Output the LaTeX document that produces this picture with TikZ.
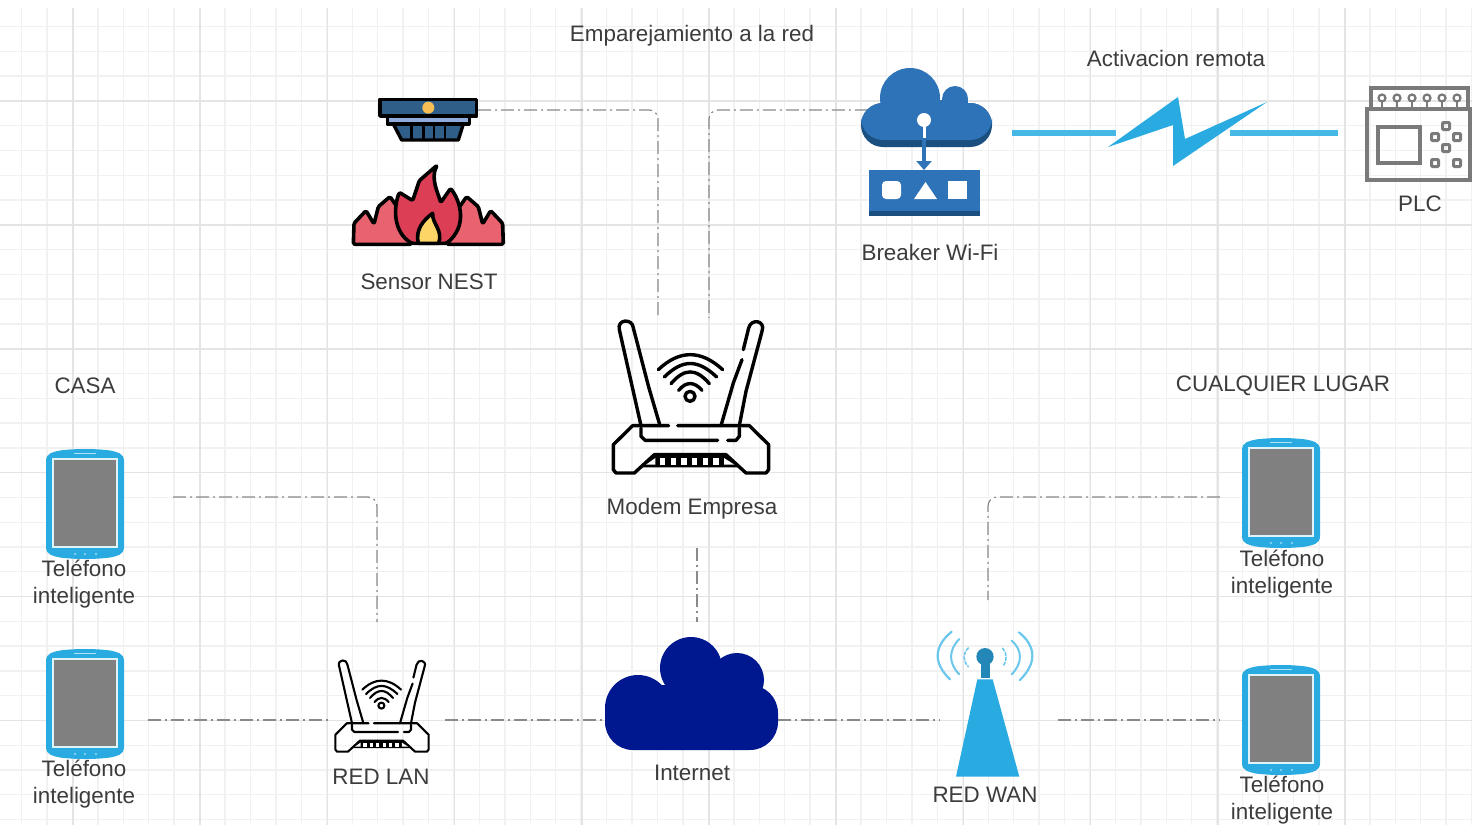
\documentclass[tikz,border=0pt]{standalone}
\usepackage{fontspec}
\setmainfont{Liberation Sans}
\usetikzlibrary{calc,arrows.meta}
\definecolor{gridminor}{HTML}{F1F1F1}
\definecolor{gridmajor}{HTML}{E4E4E4}
\definecolor{textc}{HTML}{3C3C3C}
\definecolor{skyb}{HTML}{29ABE2}
\definecolor{skybar}{HTML}{45B8E6}
\definecolor{arcb}{HTML}{6CC7EC}
\definecolor{towerdark}{HTML}{2388B8}
\definecolor{cloudb}{HTML}{2E72B8}
\definecolor{cloudd}{HTML}{1B4F80}
\definecolor{netb}{HTML}{00188F}
\definecolor{smokeb}{HTML}{2F5F88}
\definecolor{smokel}{HTML}{8FAADC}
\definecolor{amber}{HTML}{F7BE55}
\definecolor{flamea}{HTML}{E8626F}
\definecolor{flameb}{HTML}{DC3F55}
\definecolor{flamec}{HTML}{FDD566}
\definecolor{plcg}{HTML}{7A7A7A}
\definecolor{screen}{HTML}{808080}
\definecolor{connc}{HTML}{8A8A8A}
\tikzset{
  lab/.style={font=\fontsize{22.4}{27}\selectfont,text=textc,inner sep=0pt,align=center},
  port/.style={inner sep=0pt,minimum width=#1},
  conn/.style={draw=connc,line width=1.2pt,dash pattern=on 13pt off 4pt on 2pt off 4pt,rounded corners=9pt},
  bar/.style={draw=skybar,line width=6pt},
  ink/.style={draw=black,line join=round,line cap=round},
}
\newcommand{\routericon}[4]{%
\begin{scope}[shift={(#1,#2)},scale=#3,x=.3333pt,y=-.3333pt,shift={(-305,-292)}]
  \begin{scope}[ink,line width=#4]
  \draw (155,378) -- (90,90) .. controls (82,58) and (130,55) .. (132,85) -- (178,262) -- (212,378);
  \draw (395,378) -- (432,250) -- (458,180);
  \draw (462,150) -- (478,85) .. controls (485,55) and (530,62) .. (518,95) -- (470,275) -- (450,378);
  \draw (238,378) -- (130,378) -- (72,435) -- (72,510) -- (80,520) -- (135,520) -- (195,465) -- (410,465) -- (470,520) -- (530,520) -- (538,510) -- (538,435) -- (480,378) -- (265,378);
  \draw (155,385) -- (155,410) -- (167,422) -- (385,422);
  \draw (415,422) -- (440,422) -- (450,410) -- (450,385);
  \draw (207,210) .. controls (270,150) and (335,150) .. (400,210);
  \draw (225,232) .. controls (280,178) and (325,178) .. (382,232);
  \draw (245,252) .. controls (285,205) and (320,205) .. (360,252);
  \draw (268,272) .. controls (290,245) and (315,245) .. (338,272);
  \draw (302,290) circle (15);
  \end{scope}
  \fill[black] (150,503) -- (195,465) -- (410,465) -- (455,503) -- cycle;
  \foreach \s in {212,244,276,308,340,372}{\fill[white] (\s,475) rectangle +(16,20);}
  \fill[white] (170,495) -- (198,475) -- (198,495) -- cycle;
  \fill[white] (435,495) -- (404,475) -- (404,495) -- cycle;
\end{scope}}
\newcommand{\phoneicon}[2]{%
\begin{scope}[shift={(#1,#2)}]
  \fill[skyb] (-39,-43) .. controls (-39,-51) and (-32,-52) .. (-25,-53.5) .. controls (-10,-55.5) and (10,-55.5) .. (25,-53.5) .. controls (32,-52) and (39,-51) .. (39,-43) -- (39,43) .. controls (39,51) and (32,52) .. (25,53.5) .. controls (10,55.5) and (-10,55.5) .. (-25,53.5) .. controls (-32,52) and (-39,51) .. (-39,43) -- cycle;
  \fill[white!85!skyb] (-33,-46) rectangle (33,44);
  \fill[screen] (-31,-44) rectangle (31,42);
  \draw[white!65!skyb,line width=1.2pt] (-11,-50.5) -- (11,-50.5);
  \foreach \d in {-10,0,11}{\fill[white!55!skyb] (\d,50) circle (1.2);}
\end{scope}}
\begin{document}
\begin{tikzpicture}[x=1pt,y=-1pt]
\useasboundingbox (0,0) rectangle (1472,825);
\fill[white] (0,0) rectangle (1472,825);
% grid
\foreach \i in {0,...,57}{\draw[gridminor,line width=1.4pt] ({21.5+25.44*\i},8) -- ({21.5+25.44*\i},825);}
\foreach \j in {0,...,32}{\draw[gridminor,line width=1.4pt] (0,{26.6+24.78*\j}) -- (1472,{26.6+24.78*\j});}
\foreach \i in {0,...,10}{\draw[gridmajor,line width=1.5pt] ({73+127.2*\i},8) -- ({73+127.2*\i},825);}
\foreach \k in {0,...,5}{\draw[gridmajor,line width=1.5pt] (0,{101+123.9*\k}) -- (1472,{101+123.9*\k});}

% anchoring boxes of the icons
\node[port=100pt,minimum height=42pt] (smoke) at (428,110) {};
\node[port=116pt,minimum height=80pt] (wificloud) at (926,110) {};
\node[port=158pt,minimum height=156pt] (modem) at (691,396) {};
\node[port=94pt,minimum height=100pt] (redlan) at (381,720) {};
\node[port=174pt,minimum height=114pt] (internet) at (691,693) {};
\node[port=118pt,minimum height=150pt] (tower) at (999,704) {};
\node[port=78pt,minimum height=110pt] (phoneA) at (85,504) {};
\node[port=78pt,minimum height=110pt] (phoneB) at (85,704) {};
\node[port=78pt,minimum height=110pt] (phoneC) at (1281,493) {};
\node[port=78pt,minimum height=110pt] (phoneD) at (1281,720) {};
\node[port=104pt,minimum height=10pt] (plc) at (1420,133) {};
\coordinate (boltL) at (1116,133);
\coordinate (boltR) at (1230,133);
\coordinate (barL) at (1012,133);
\coordinate (barR) at (1338,133);

% labels
\node[lab] (t1) at (692,36) {Emparejamiento a la red};
\node[lab] (t2) at (1176,58) {Activacion remota};
\node[lab] (t3) at (1420,204) {PLC};
\node[lab] (t4) at (930,252.5) {Breaker Wi-Fi};
\node[lab] (t5) at (429,281.5) {Sensor NEST};
\node[lab] (t6) at (85,385.5) {CASA};
\node[lab] (t7) at (1283,386) {CUALQUIER LUGAR};
\node[lab] (t8) at (692,509) {Modem Empresa};
\node[lab] (t9) at (84,584.5) {Teléfono\\inteligente};
\node[lab] (t10) at (84,784) {Teléfono\\inteligente};
\node[lab] (t11) at (1282,574.5) {Teléfono\\inteligente};
\node[lab] (t12) at (1282,800.5) {Teléfono\\inteligente};
\node[lab] (t13) at (381,776.5) {RED LAN};
\node[lab] (t14) at (692,772.5) {Internet};
\node[lab] (t15) at (985,794.5) {RED WAN};

% connectors
\coordinate (m1) at ($(modem.north)+(-33,0)$);
\coordinate (m2) at ($(modem.north)+(18,0)$);
\coordinate (lanup) at (377,622);
\coordinate (wanup) at (988,600);
\coordinate (netup) at (697,622);
\coordinate (modemdown) at (697,548);
\coordinate (pA) at (173,497);
\coordinate (pB) at (148,720);
\coordinate (pC) at (1220,497);
\coordinate (pD) at (1220,720);
\coordinate (wanE) at (1058,720);
\coordinate (wanW) at (940,720);
\coordinate (lanW) at (330,720);
\coordinate (lanE) at (445,720);
\coordinate (netW) at (605,720);
\coordinate (netE) at (778,720);
\draw[conn] (smoke.east) -| (m1);
\draw[conn] (wificloud.west) -| (m2);
\draw[conn] (pA) -| (lanup);
\draw[conn] (pC) -| (wanup);
\draw[conn] (modemdown) -- (netup);
\draw[conn] (pB) -- (lanW);
\draw[conn] (lanE) -- (netW);
\draw[conn] (netE) -- (wanW);
\draw[conn] (wanE) -- (pD);
\draw[bar] (barL) -- (boltL);
\draw[bar] (boltR) -- (barR);
\fill[skyb] (1108,147) -- (1178,97) -- (1185,139) -- (1267,102) -- (1173,166) -- (1173,125) -- cycle;

% smoke sensor
\begin{scope}[shift={(340,60)},x=.3333pt,y=-.3333pt]
  \draw[ink,line width=3.4pt,fill=smokeb] (160,192) -- (185,240) -- (355,240) -- (370,192) -- cycle;
  \foreach \s in {215,250,282,315}{\draw[black,line width=2.4pt] (\s,195) -- (\s,238);}
  \draw[ink,line width=3.4pt,fill=smokel] (142,170) rectangle (388,192);
  \draw[ink,line width=3.6pt,fill=smokeb] (120,118) rectangle (410,168);
  \fill[amber] (265,143) circle (18);
  % flames
  \draw[ink,line width=3.6pt,fill=flamea,rounded corners=1.5pt] (40,553) -- (42,490) -- (78,452) -- (102,492) -- (115,440) -- (150,410) -- (178,450) -- (215,553) -- cycle;
  \draw[ink,line width=3.6pt,fill=flamea,rounded corners=1.5pt] (490,553) -- (488,490) -- (452,452) -- (428,492) -- (415,440) -- (380,410) -- (352,450) -- (320,553) -- cycle;
  \draw[ink,line width=3.6pt,fill=flameb,rounded corners=1.5pt] (215,550) .. controls (160,515) and (160,445) .. (178,397) -- (218,422) -- (238,362) -- (292,315) .. controls (270,355) and (295,400) .. (302,428) -- (332,385) .. controls (365,430) and (380,500) .. (320,550) -- cycle;
  \draw[ink,line width=3.6pt,fill=flamec] (235,550) .. controls (225,510) and (250,480) .. (278,460) .. controls (275,490) and (310,510) .. (296,550) -- cycle;
\end{scope}

% Wi-Fi cloud and breaker
\fill[cloudd,rounded corners=22pt] (861,103) rectangle (992,147);
\fill[cloudb,rounded corners=22pt] (861,103) rectangle (992,140);
\fill[cloudb] (910,98) circle (30);
\fill[cloudb] (955,99) circle (13);
\fill[cloudb] (938,100) rectangle (968,110);
\draw[white,line width=3pt] (924,120) -- (924,138);
\fill[white] (924,120) circle (7);
\draw[cloudb,line width=3.4pt,-{Triangle[length=9pt,width=15pt]}] (924,138) -- (924,170);
\fill[cloudb] (869,170) rectangle (980,211);
\fill[cloudd] (869,211) rectangle (980,216);
\fill[white,rounded corners=4pt] (882,181) rectangle (901,199);
\fill[white] (914,199) -- (925.5,182) -- (937,199) -- cycle;
\fill[white] (948,181) rectangle (967,199);

% PLC
\begin{scope}[draw=plcg,line width=3.2pt]
  \draw (1371,109) -- (1371,88) -- (1468,88) -- (1468,109);
  \draw (1367,109) rectangle (1470,180);
  \draw (1378,127) rectangle (1420,163);
  \foreach \x in {1382,1397,1412,1427,1442,1457}{
    \draw[line width=2.2pt] (\x,98) circle (3.5);
    \draw[line width=2.2pt] (\x,101.5) -- (\x,108);}
  \foreach \x/\y in {1446/126,1435/137,1457/137,1446/148,1435/163,1457/163}{
    \draw[line width=3pt,rounded corners=1pt] (\x-3.5,\y-3.5) rectangle (\x+3.5,\y+3.5);}
\end{scope}

% routers
\routericon{691}{397}{1}{3.4pt}
\routericon{382}{706}{.6}{2.1pt}

% Internet
\fill[netb,rounded corners=28pt] (605,685) rectangle (778,750);
\fill[netb] (691,668) circle (31);
\fill[netb] (737,680) circle (27);
\fill[netb] (638,708) circle (33);
\fill[netb] (650,695) rectangle (750,720);

% tower
\begin{scope}[shift={(900,620)},x=.3333pt,y=-.3333pt]
  \fill[skyb] (232,178) -- (278,178) -- (358,470) -- (168,470) -- cycle;
  \fill[towerdark] (243,125) rectangle (270,175);
  \fill[towerdark] (255,110) circle (26);
  \begin{scope}[draw=arcb,line cap=round]
  \draw[line width=2.2pt] (155,35) .. controls (100,80) and (100,130) .. (150,178);
  \draw[line width=2pt] (178,57) .. controls (145,90) and (145,130) .. (178,163);
  \draw[line width=1.6pt,densely dashed] (205,84) .. controls (188,100) and (188,122) .. (205,140);
  \draw[line width=2.2pt] (357,37) .. controls (410,80) and (410,130) .. (360,180);
  \draw[line width=2pt] (335,62) .. controls (368,90) and (368,130) .. (335,163);
  \draw[line width=1.6pt,densely dashed] (308,85) .. controls (322,100) and (322,122) .. (308,140);
  \end{scope}
\end{scope}

% phones
\phoneicon{85}{504}
\phoneicon{85}{704}
\phoneicon{1281}{493}
\phoneicon{1281}{720}
\end{tikzpicture}
\end{document}
